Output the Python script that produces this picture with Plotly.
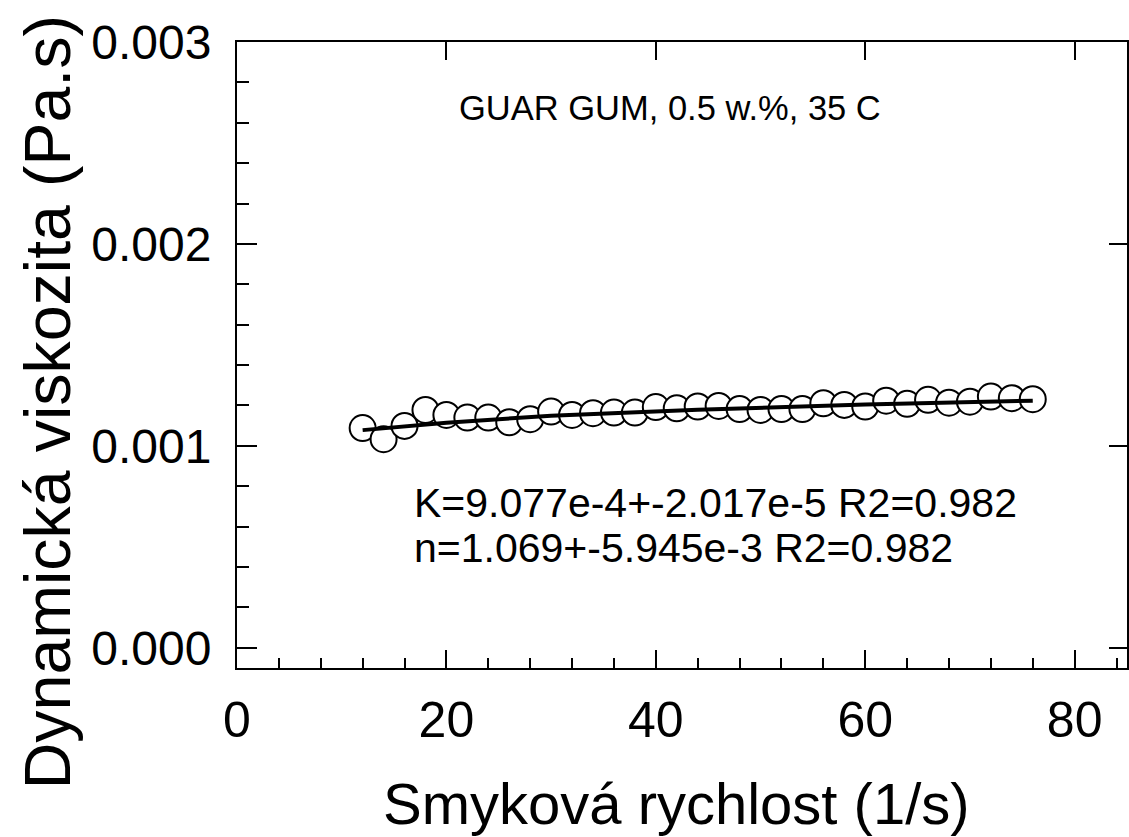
import plotly.graph_objects as go

# Shear rate (1/s)
shear_rate = [12, 14, 16, 18, 20, 22, 24, 26, 28, 30, 32, 34, 36, 38, 40, 42, 44,
              46, 48, 50, 52, 54, 56, 58, 60, 62, 64, 66, 68, 70, 72, 74, 76]
# Dynamic viscosity (Pa.s)
viscosity = [0.001088, 0.001033, 0.001099, 0.001178, 0.001153, 0.001140, 0.001140,
             0.001117, 0.001132, 0.001170, 0.001153, 0.001162, 0.001165, 0.001165,
             0.001192, 0.001186, 0.001195, 0.001198, 0.001182, 0.001178, 0.001182,
             0.001182, 0.001211, 0.001203, 0.001195, 0.001224, 0.001208, 0.001228,
             0.001214, 0.001219, 0.001244, 0.001236, 0.001231]
# Fitted curve
fit_x = [12, 20, 30, 44, 60, 76]
fit_y = [0.001078, 0.001115, 0.001149, 0.001179, 0.001205, 0.001224]

x_title = "Smyková rychlost (1/s)"
y_title = "Dynamická viskozita (Pa.s)"
title_text = "GUAR GUM, 0.5 w.%, 35 C"
k_text = "K=9.077e-4+-2.017e-5 R2=0.982"
n_text = "n=1.069+-5.945e-3 R2=0.982"

FONT = "Liberation Sans, Arial, sans-serif"
XR = [0, 85]
YR = [-0.0001, 0.003]

fig = go.Figure()
fig.add_trace(go.Scatter(
    x=shear_rate, y=viscosity, mode="markers",
    marker=dict(symbol="circle", size=26, color="white",
                line=dict(color="black", width=2)),
    showlegend=False, hoverinfo="skip"))
fig.add_trace(go.Scatter(
    x=fit_x, y=fit_y, mode="lines", line=dict(color="black", width=4),
    showlegend=False, hoverinfo="skip"))
# invisible trace for mirrored frame axes
fig.add_trace(go.Scatter(x=[shear_rate[0]], y=[viscosity[0]], xaxis="x2", yaxis="y2",
                         mode="markers", marker=dict(opacity=0), showlegend=False,
                         hoverinfo="skip"))

fig.update_layout(
    width=1129, height=837,
    margin=dict(l=237, r=2, t=42, b=169, autoexpand=False),
    paper_bgcolor="white", plot_bgcolor="white",
    font=dict(family=FONT, color="black"),
    xaxis=dict(
        range=XR, showgrid=False, zeroline=False, automargin=False,
        showline=True, linecolor="black", linewidth=2,
        ticks="inside", ticklen=18, tickwidth=2, tickcolor="black",
        tick0=0, dtick=20,
        minor=dict(ticks="inside", ticklen=10, tickwidth=2, tickcolor="black", dtick=4, tick0=0),
        tickfont=dict(size=50, family=FONT), ticklabelstandoff=7,
    ),
    yaxis=dict(
        range=YR, showgrid=False, zeroline=False, automargin=False,
        showline=True, linecolor="black", linewidth=2,
        ticks="inside", ticklen=20, tickwidth=2, tickcolor="black",
        tick0=0, dtick=0.001, tickformat=".3f",
        minor=dict(ticks="inside", ticklen=12, tickwidth=2, tickcolor="black", dtick=0.0002, tick0=0),
        tickfont=dict(size=48, family=FONT), ticklabelstandoff=14,
    ),
    xaxis2=dict(
        range=XR, overlaying="x", side="top", showgrid=False, zeroline=False, automargin=False,
        showline=True, linecolor="black", linewidth=2,
        ticks="inside", ticklen=18, tickwidth=2, tickcolor="black",
        tick0=0, dtick=20, showticklabels=False,
    ),
    yaxis2=dict(
        range=YR, overlaying="y", side="right", showgrid=False, zeroline=False, automargin=False,
        showline=True, linecolor="black", linewidth=2,
        ticks="inside", ticklen=18, tickwidth=2, tickcolor="black",
        tick0=0, dtick=0.001, showticklabels=False,
    ),
    annotations=[
        dict(x=0.494, y=-0.216, xref="paper", yref="paper", text=x_title, showarrow=False,
             xanchor="center", yanchor="middle", font=dict(size=58, family=FONT)),
        dict(x=-0.212, y=0.425, xref="paper", yref="paper", text=y_title, showarrow=False,
             textangle=-90, xanchor="center", yanchor="middle", font=dict(size=64.5, family=FONT)),
        dict(x=21.0, y=0.002673, xref="x", yref="y", text=title_text, showarrow=False,
             xanchor="left", yanchor="middle", font=dict(size=34.5, family=FONT)),
        dict(x=16.7, y=0.000718, xref="x", yref="y", text=k_text, showarrow=False,
             xanchor="left", yanchor="middle", font=dict(size=41, family=FONT)),
        dict(x=16.7, y=0.000495, xref="x", yref="y", text=n_text, showarrow=False,
             xanchor="left", yanchor="middle", font=dict(size=41, family=FONT)),
    ],
)

fig.write_html(
    "out.html",
    config={"displayModeBar": False},
    post_script="document.body.style.margin='0px';document.body.style.overflow='hidden';",
)
